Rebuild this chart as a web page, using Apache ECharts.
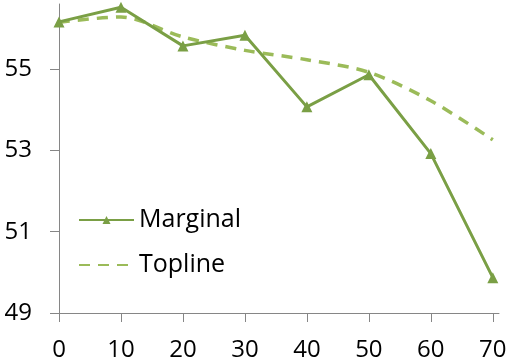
<!DOCTYPE html>
<html>
<head>
<meta charset="utf-8">
<script src="https://cdn.jsdelivr.net/npm/echarts@6/dist/echarts.min.js"></script>
<style>html,body{margin:0;padding:0;background:#fff}#c{width:512px;height:364px}</style>
</head>
<body>
<div id="c"></div>
<script>
const xValues = [0, 10, 20, 30, 40, 50, 60, 70];
const marginal = [56.16, 56.52, 55.57, 55.83, 54.07, 54.86, 52.92, 49.87];
const topline = [56.15, 56.28, 55.79, 55.46, 55.23, 54.92, 54.22, 53.26];
const yTicks = [49, 51, 53, 55];
const xTicks = [0, 10, 20, 30, 40, 50, 60, 70];

const font = '"Open Sans", sans-serif';
const chart = echarts.init(document.getElementById('c'), null, {renderer: 'canvas'});
chart.setOption({
  animation: false,
  backgroundColor: '#fff',
  grid: {left: 59, right: 13, top: 4, bottom: 51, containLabel: false},
  legend: {
    orient: 'vertical', left: 73, top: 202,
    itemWidth: 55, itemHeight: 10, itemGap: 19,
    textStyle: {fontFamily: font, fontSize: 25, color: '#000', lineHeight: 26},
    data: ['Marginal', {name: 'Topline', itemStyle: {opacity: 0}}]
  },
  xAxis: {
    type: 'value', min: 0, max: 71,
    axisLine: {show: true, lineStyle: {color: '#868686', width: 1}},
    axisTick: {show: true, length: 9, inside: false, customValues: xTicks, lineStyle: {color: '#868686'}},
    axisLabel: {customValues: xTicks, margin: 25, fontFamily: font, fontSize: 24, color: '#000'},
    splitLine: {show: false}
  },
  yAxis: {
    type: 'value', min: 49, max: 56.6,
    axisLine: {show: true, lineStyle: {color: '#868686', width: 1}},
    axisTick: {show: true, length: 9, customValues: yTicks, lineStyle: {color: '#868686'}},
    axisLabel: {customValues: yTicks, margin: 27, fontFamily: font, fontSize: 24, color: '#000'},
    splitLine: {show: false}
  },
  series: [
    {
      name: 'Marginal', type: 'line',
      data: xValues.map((x, i) => [x, marginal[i]]),
      symbol: 'triangle', symbolSize: 11,
      lineStyle: {color: '#7A9F45', width: 3},
      itemStyle: {color: '#7A9F45'},
      z: 3
    },
    {
      name: 'Topline', type: 'line',
      data: xValues.map((x, i) => [x, topline[i]]),
      symbol: 'none', smooth: 0.3,
      lineStyle: {color: '#9BBB59', width: 3.5, type: [11, 8]},
      itemStyle: {color: '#9BBB59'},
      z: 2
    }
  ]
});
</script>
</body>
</html>
